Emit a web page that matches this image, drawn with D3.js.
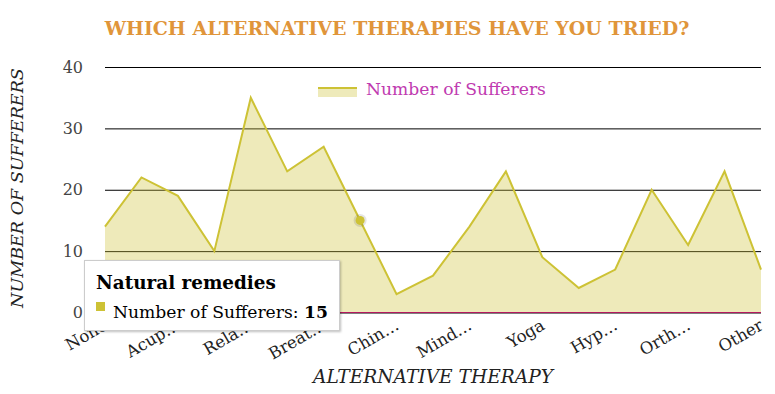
<!DOCTYPE html>
<html>
<head>
<meta charset="utf-8">
<script src="https://cdn.jsdelivr.net/npm/d3@7"></script>
<style>
  body { margin: 0; background: #fff; }
</style>
</head>
<body>
<div id="chart"></div>
<script>
// data
const categories = ["None", "Massage", "Acupuncture", "Chiropractic", "Relaxation", "Meditation",
  "Breathing", "Natural remedies", "Chinese medicine", "Homeopathy", "Mindfulness", "Reflexology",
  "Yoga", "Pilates", "Hypnotherapy", "Osteopathy", "Orthotics", "Physiotherapy", "Other"]
const sufferers = [14, 22, 19, 10, 35, 23, 27, 15, 3, 6, 14, 23, 9, 4, 7, 20, 11, 23, 7]
const tickLabels = ["None", "", "Acup\u2026", "", "Rela\u2026", "", "Breat\u2026", "", "Chin\u2026", "",
  "Mind\u2026", "", "Yoga", "", "Hyp\u2026", "", "Orth\u2026", "", "Other"]
const yTicks = [0, 10, 20, 30, 40]
const seriesName = "Number of Sufferers"
const hoverIndex = 7

const serif = '"DejaVu Serif", Georgia, serif'
const W = 775, H = 394
const margin = {top: 67, right: 14, bottom: 81.5, left: 105}

const svg = d3.select("#chart").append("svg")
    .attr("width", W).attr("height", H)
    .style("font-family", serif)

// shrink/grow font so the text takes the width seen in the picture
function fit(sel, target) {
    const size = parseFloat(sel.style("font-size"))
    const len = sel.node().getComputedTextLength()
    sel.style("font-size", (size * target / len).toFixed(2) + "px")
    return sel
}

const x = d3.scalePoint().domain(categories).range([margin.left, W - margin.right])
const y = d3.scaleLinear().domain([0, 40]).range([H - margin.bottom, margin.top])

// title
const title = svg.append("text")
    .attr("x", 397).attr("y", 35)
    .attr("text-anchor", "middle")
    .style("font-size", "18px").style("font-weight", "bold")
    .style("fill", "#e0953a")
    .text("WHICH ALTERNATIVE THERAPIES HAVE YOU TRIED?")
fit(title, 585)

// gridlines + y labels
const yAxis = svg.append("g")
    .attr("transform", "translate(" + margin.left + ",0)")
    .call(d3.axisLeft(y).tickValues(yTicks).tickSize(-(W - margin.left - margin.right)).tickPadding(22))
yAxis.select(".domain").remove()
yAxis.selectAll(".tick line").attr("stroke", "#000").attr("stroke-width", 1)
yAxis.selectAll(".tick text")
    .style("font-family", serif).style("font-size", "16px").style("fill", "#444")

// area + line
const area = d3.area()
    .x((d, i) => x(categories[i]))
    .y0(y(0))
    .y1(d => y(d))
const line = d3.line()
    .x((d, i) => x(categories[i]))
    .y(d => y(d))

svg.append("path").datum(sufferers)
    .attr("d", area).attr("fill", "#cdc235").attr("fill-opacity", 0.34)
svg.append("path").datum(sufferers)
    .attr("d", line).attr("fill", "none").attr("stroke", "#cdc235").attr("stroke-width", 2)

// baseline
svg.append("line")
    .attr("x1", margin.left).attr("x2", W - margin.right)
    .attr("y1", y(0)).attr("y2", y(0))
    .attr("stroke", "#b4185e").attr("stroke-width", 1)

// hovered point
svg.append("circle")
    .attr("cx", x(categories[hoverIndex])).attr("cy", y(sufferers[hoverIndex]))
    .attr("r", 6.5).attr("fill", "#000").attr("fill-opacity", 0.1)
svg.append("circle")
    .attr("cx", x(categories[hoverIndex])).attr("cy", y(sufferers[hoverIndex]))
    .attr("r", 4.5).attr("fill", "#cdc235")

// x axis labels
const xAxis = svg.append("g")
    .attr("transform", "translate(0," + y(0) + ")")
    .call(d3.axisBottom(x).tickSize(0).tickFormat((d, i) => tickLabels[i]))
xAxis.select(".domain").remove()
xAxis.selectAll(".tick text")
    .style("font-family", serif).style("font-size", "16.5px").style("fill", "#222")
    .attr("text-anchor", "end")
    .attr("transform", "translate(0,11) rotate(-30)")
    .attr("dy", "0.35em").attr("y", 0)

// axis titles
const xTitle = svg.append("text")
    .attr("x", 433).attr("y", 383)
    .attr("text-anchor", "middle")
    .style("font-size", "16px").style("font-style", "italic").style("fill", "#222")
    .text("ALTERNATIVE THERAPY")
fit(xTitle, 240)
const yTitle = svg.append("text")
    .attr("transform", "translate(23,188) rotate(-90)")
    .attr("text-anchor", "middle")
    .style("font-size", "16px").style("font-style", "italic").style("fill", "#222")
    .text("NUMBER OF SUFFERERS")
fit(yTitle, 240)

// legend
const lg = svg.append("g").attr("transform", "translate(318,87)")
lg.append("rect").attr("width", 39).attr("height", 10).attr("fill", "#cdc235").attr("fill-opacity", 0.34)
lg.append("line").attr("x1", 0).attr("x2", 39).attr("y1", 1).attr("y2", 1)
    .attr("stroke", "#cdc235").attr("stroke-width", 2)
const lgText = lg.append("text").attr("x", 48).attr("y", 8)
    .style("font-size", "16px").style("fill", "#c03ab0")
    .text(seriesName)
fit(lgText, 180)

// tooltip
const defs = svg.append("defs")
const f = defs.append("filter").attr("id", "shadow").attr("x", "-10%").attr("y", "-10%")
    .attr("width", "130%").attr("height", "140%")
f.append("feDropShadow").attr("dx", 1).attr("dy", 1).attr("stdDeviation", 1.2)
    .attr("flood-color", "#000").attr("flood-opacity", 0.25)

const tip = svg.append("g").attr("transform", "translate(84,260)")
tip.append("rect").attr("x", 0.5).attr("y", 0.5).attr("width", 255).attr("height", 70)
    .attr("fill", "#fff").attr("stroke", "#ccc").attr("filter", "url(#shadow)")
const tipHead = tip.append("text").attr("x", 12).attr("y", 29)
    .style("font-size", "16px").style("font-weight", "bold").style("fill", "#000")
    .text(categories[hoverIndex])
fit(tipHead, 180)
tip.append("rect").attr("x", 12).attr("y", 42).attr("width", 9).attr("height", 9).attr("fill", "#cdc235")
const tipRow = tip.append("text").attr("x", 29).attr("y", 58)
    .style("font-size", "16px").style("fill", "#000")
tipRow.append("tspan").text(seriesName + ": ")
tipRow.append("tspan").style("font-weight", "bold").text(sufferers[hoverIndex])
fit(tipRow, 215)
</script>
</body>
</html>
